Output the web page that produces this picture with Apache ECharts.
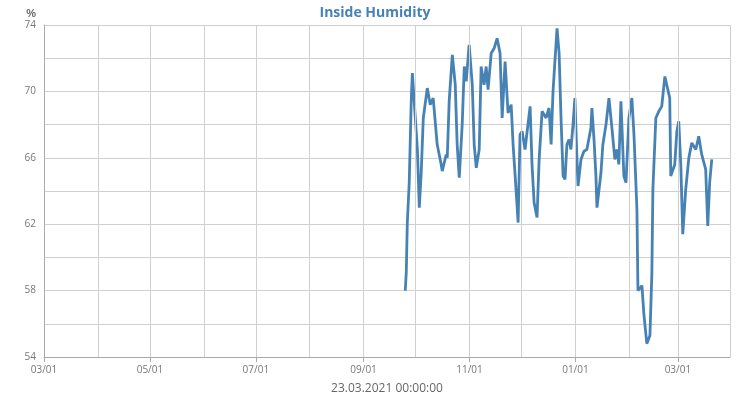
<!DOCTYPE html>
<html><head><meta charset="utf-8">
<script src="https://cdn.jsdelivr.net/npm/echarts@6/dist/echarts.min.js"></script>
<style>html,body{margin:0;padding:0;background:#fff}#c{width:750px;height:400px}</style>
</head><body><div id="c"></div>
<script>
// days since 2020-03-01
const days = [208.0,208.6,209.2,210.3,211.5,212.1,213.8,215.0,216.1,217.2,218.4,220.7,222.4,224.1,226.4,228.7,229.3,231.6,232.2,233.3,235.1,236.8,237.9,239.1,240.8,242.0,243.1,244.8,246.6,247.7,248.9,250.6,251.7,253.4,254.6,255.7,257.5,259.2,260.9,262.6,263.8,265.5,267.2,269.0,270.1,271.8,273.0,274.1,275.3,277.0,278.2,279.9,281.0,282.2,283.9,285.1,286.8,289.1,290.8,292.0,293.1,295.4,296.6,297.7,298.9,300.0,301.1,302.3,303.4,304.6,305.7,306.9,307.5,309.2,310.9,312.6,314.9,315.5,316.7,317.8,318.4,320.7,321.8,323.6,325.3,327.0,328.7,329.9,331.0,332.2,333.9,335.1,336.8,338.5,339.7,341.4,342.0,344.3,345.4,347.1,348.9,350.0,350.6,352.3,354.0,355.7,357.5,358.6,360.3,360.9,363.2,364.4,365.5,366.7,367.8,369.5,371.3,373.0,375.3,377.0,378.7,381.0,382.2,383.3,384.5];
const humidity = [58.0,59.1,62.1,64.5,69.6,71.1,68.4,66.5,63.0,65.1,68.4,70.2,69.2,69.6,66.8,65.6,65.2,66.2,66.0,69.4,72.2,70.4,66.8,64.8,68.0,71.5,70.6,72.8,70.4,66.8,65.4,66.5,71.5,70.4,71.5,70.1,72.3,72.6,73.2,72.3,68.4,71.8,68.7,69.2,66.8,64.1,62.1,67.4,67.6,66.5,67.6,69.1,65.6,63.3,62.4,65.9,68.8,68.4,69.0,66.8,70.0,73.8,72.3,68.4,64.9,64.7,66.8,67.1,66.5,68.0,69.6,65.9,64.3,65.9,66.4,66.5,67.8,69.0,67.1,64.9,63.0,65.1,66.8,68.0,69.6,67.8,65.9,66.5,65.6,69.4,64.9,64.5,68.4,69.6,67.4,62.9,58.0,58.3,56.6,54.8,55.3,59.0,64.1,68.4,68.8,69.1,70.9,70.8,69.6,64.9,65.6,67.6,68.2,65.5,61.4,64.1,66.0,66.9,66.5,67.3,66.2,65.3,61.9,64.5,65.9];
const monthStarts = [31,61,92,122,153,184,214,245,275,306,337,365];
const labelDays = [0,61,122,184,245,306,365];
const labelTexts = ['03/01','05/01','07/01','09/01','11/01','01/01','03/01'];

const chart = echarts.init(document.getElementById('c'));
chart.setOption({
  animation:false,
  title:{text:'Inside Humidity',left:'center',top:1,textStyle:{color:'#4682b4',fontSize:14,fontWeight:'bold',fontFamily:'Open Sans'}},
  grid:{left:44,right:20,top:25,bottom:32},
  xAxis:{type:'value',min:0,max:395,name:'23.03.2021 00:00:00',nameLocation:'middle',nameGap:26,
    nameTextStyle:{color:'#666',fontSize:12,fontFamily:'Open Sans'},
    axisLine:{lineStyle:{color:'#aaa'}},splitLine:{show:false},
    axisTick:{customValues:labelDays,lineStyle:{color:'#aaa'}},
    axisLabel:{customValues:labelDays,color:'#777',fontSize:10,fontFamily:'Open Sans',
      formatter:v=>labelTexts[labelDays.indexOf(Math.round(v))]||''}},
  yAxis:{type:'value',min:54,max:74,interval:2,name:'%',nameLocation:'end',nameGap:6,
    nameTextStyle:{color:'#666',fontSize:11,fontWeight:'bold',align:'right',padding:[0,8,0,0]},
    axisLine:{show:true,lineStyle:{color:'#aaa'}},axisTick:{show:false},
    splitLine:{lineStyle:{color:'#d0d0d0'}},
    axisLabel:{color:'#777',fontSize:10,fontFamily:'Open Sans',formatter:v=>((v-54)%4===0?v:'')}},
  series:[{type:'line',data:days.map((d,i)=>[d,humidity[i]]),showSymbol:false,
    lineStyle:{color:'#4682b4',width:2.8},itemStyle:{color:'#4682b4'},
    markLine:{silent:true,symbol:'none',label:{show:false},lineStyle:{color:'#d0d0d0',type:'solid',width:1},
      data:monthStarts.concat([395]).map(d=>({xAxis:d}))}}]
});
</script></body></html>
